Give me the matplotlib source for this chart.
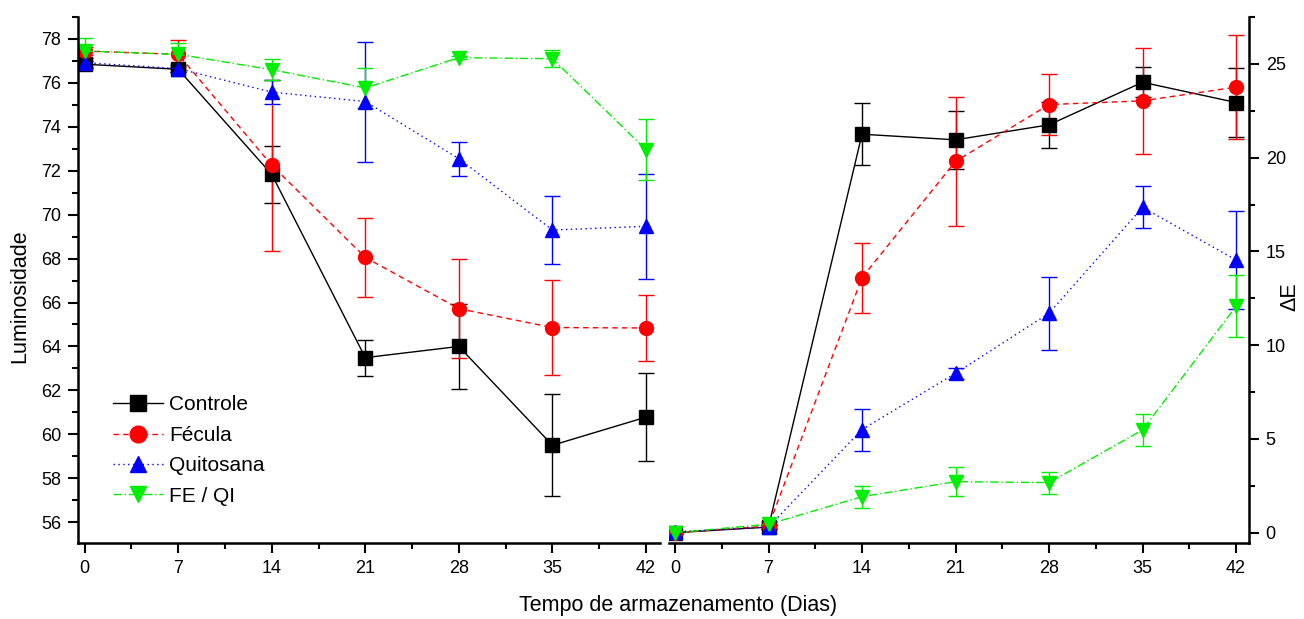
import matplotlib
matplotlib.use("Agg")
import matplotlib.pyplot as plt
from matplotlib.lines import Line2D
from matplotlib.ticker import MultipleLocator

plt.rcParams['font.family'] = ['Liberation Sans', 'DejaVu Sans']

dias = [0, 7, 14, 21, 28, 35, 42]
series = ['Controle', 'Fécula', 'Quitosana', 'FE / QI']

# Luminosidade (media e desvio)
lum_controle = [76.85, 76.62, 71.83, 63.49, 64.0, 59.5, 60.78]
lum_controle_sd = [0.15, 0.12, 1.3, 0.82, 1.92, 2.33, 2.0]
lum_fecula = [77.45, 77.3, 72.25, 68.05, 65.72, 64.86, 64.84]
lum_fecula_sd = [0.2, 0.65, 3.9, 1.8, 2.25, 2.17, 1.52]
lum_quitosana = [76.92, 76.65, 75.58, 75.15, 72.55, 69.3, 69.47]
lum_quitosana_sd = [0.2, 0.15, 0.55, 2.73, 0.78, 1.53, 2.4]
lum_feqi = [77.45, 77.3, 76.6, 75.77, 77.15, 77.1, 72.96]
lum_feqi_sd = [0.6, 0.5, 0.47, 0.9, 0.08, 0.39, 1.4]

# Delta E (media e desvio)
de_controle = [0.0, 0.3, 21.25, 20.95, 21.75, 24.02, 22.94]
de_controle_sd = [0.05, 0.1, 1.64, 1.55, 1.21, 0.8, 1.85]
de_fecula = [0.0, 0.35, 13.6, 19.8, 22.83, 23.03, 23.76]
de_fecula_sd = [0.05, 0.1, 1.87, 3.45, 1.63, 2.82, 2.78]
de_quitosana = [0.05, 0.3, 5.5, 8.5, 11.7, 17.35, 14.54]
de_quitosana_sd = [0.05, 0.1, 1.12, 0.3, 1.94, 1.12, 2.6]
de_feqi = [0.0, 0.45, 1.92, 2.72, 2.67, 5.48, 12.07]
de_feqi_sd = [0.05, 0.1, 0.59, 0.78, 0.59, 0.87, 1.66]

cores = ['black', '#ff0000', '#0000ff', '#00ee00']
marcadores = ['s', 'o', '^', 'v']
estilos = ['-', (0, (4, 3)), (0, (1, 2.5)), (0, (6, 2, 1, 2))]

lum = [(lum_controle, lum_controle_sd), (lum_fecula, lum_fecula_sd),
       (lum_quitosana, lum_quitosana_sd), (lum_feqi, lum_feqi_sd)]
de = [(de_controle, de_controle_sd), (de_fecula, de_fecula_sd),
      (de_quitosana, de_quitosana_sd), (de_feqi, de_feqi_sd)]

fig = plt.figure(figsize=(13.04, 6.19), dpi=100)
W, H = 1304, 619
ax1 = fig.add_axes([78 / W, (H - 543) / H, (660 - 78) / W, (543 - 17) / H])
ax2 = fig.add_axes([669 / W, (H - 543) / H, (1249 - 669) / W, (543 - 17) / H])

for ax, dados in [(ax1, lum), (ax2, de)]:
    for (y, sd), nome, c, m, ls in zip(dados, series, cores, marcadores, estilos):
        ax.errorbar(dias, y, yerr=sd, color=c, ecolor=c, elinewidth=1.0,
                    capsize=6, capthick=1.0, marker=m, markersize=10,
                    linestyle=ls, linewidth=1.0)

# painel da esquerda
ax1.set_xlim(-0.5, 43.05)
ax1.set_ylim(55.05, 79)
ax1.spines['top'].set_visible(False)
ax1.spines['right'].set_visible(False)
ax1.yaxis.set_major_locator(MultipleLocator(2))
ax1.yaxis.set_minor_locator(MultipleLocator(1))
ax1.set_ylabel('Luminosidade', fontsize=15.5)
ax1.yaxis.set_label_coords(-0.082, 0.47)

# painel da direita
ax2.set_xlim(-0.45, 42.97)
ax2.set_ylim(-0.55, 27.5)
ax2.spines['top'].set_visible(False)
ax2.spines['left'].set_visible(False)
ax2.yaxis.tick_right()
ax2.yaxis.set_major_locator(MultipleLocator(5))
ax2.yaxis.set_minor_locator(MultipleLocator(2.5))
fig.text(1290 / W, 1 - 297 / H, 'ΔE', fontsize=15.5, rotation=90,
         ha='center', va='center')

for ax in (ax1, ax2):
    ax.set_xticks(dias)
    ax.xaxis.set_minor_locator(MultipleLocator(3.5))
    for s in ax.spines.values():
        s.set_linewidth(1.8)
    ax.tick_params(which='major', direction='out', length=7, width=1.5,
                   labelsize=13, pad=5)
    ax.tick_params(which='minor', direction='out', length=4.5, width=1.5)

fig.text(678 / W, 1 - 606 / H, 'Tempo de armazenamento (Dias)',
         fontsize=15.5, ha='center', va='center')

# legenda so com linha e marcador
alcas = [Line2D([], [], color=c, marker=m, markersize=12, linestyle=ls,
                linewidth=1.0)
         for c, m, ls in zip(cores, marcadores, estilos)]
ax1.legend(alcas, series, loc='lower left', bbox_to_anchor=(0.045, 0.055),
           frameon=False, fontsize=15, handlelength=2.4, handletextpad=0.3,
           labelspacing=0.55, borderaxespad=0)

fig.savefig('out.png', dpi=100)
